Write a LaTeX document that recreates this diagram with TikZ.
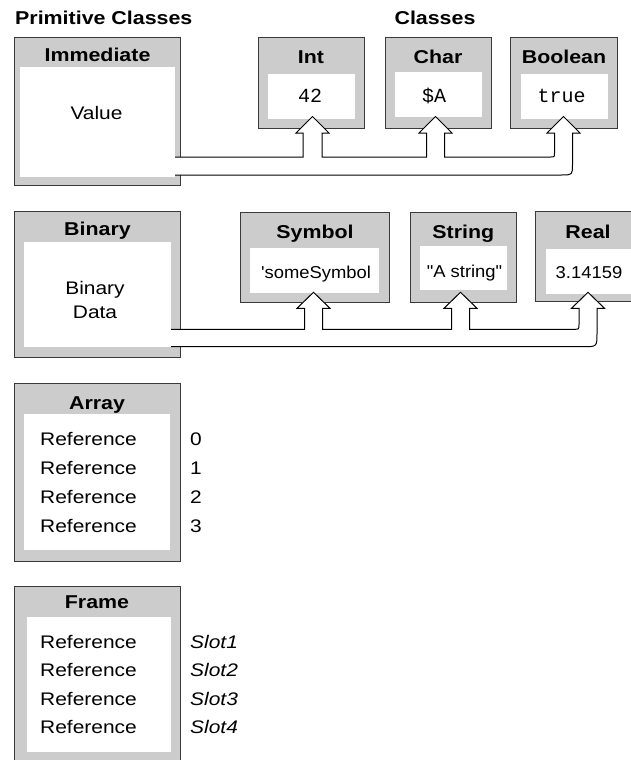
\documentclass[tikz,border=0pt]{standalone}
\usepackage{fontspec}
\setmainfont{Liberation Sans}[FakeStretch=1.15]
\newfontfamily\valfont{Liberation Sans}[FakeStretch=1.07]
\newfontfamily\monofont{Liberation Mono}
\usetikzlibrary{fit}
\definecolor{boxgray}{HTML}{CCCCCC}
\definecolor{edgegray}{HTML}{3A3A3A}
\begin{document}
\begin{tikzpicture}[x=1pt,y=-1pt,
  outerbox/.style={draw=edgegray, fill=boxgray, line width=1pt, inner sep=0pt, rectangle},
  innerbox/.style={fill=white, draw=none, inner sep=0pt, rectangle},
  hdr/.style={font=\fontsize{18.6}{20}\selectfont\bfseries, anchor=base, inner sep=0pt},
  txt/.style={font=\fontsize{18.2}{20}\selectfont, anchor=base, inner sep=0pt},
  reftxt/.style={font=\fontsize{18.2}{20}\selectfont, anchor=base west, inner sep=0pt},
  slottxt/.style={font=\fontsize{18.2}{20}\selectfont\itshape, anchor=base west, inner sep=0pt},
  monotxt/.style={font=\fontsize{20}{22}\selectfont\monofont, anchor=base, inner sep=0pt},
  valtxt/.style={font=\fontsize{17.2}{19}\selectfont\valfont, anchor=base, inner sep=0pt},
  pipe/.style={draw=black, fill=white, line width=1pt, line join=miter}
]
\path[use as bounding box] (0,0) rectangle (631,760);
\clip (0,0) rectangle (631,760);

% titles
\node[hdr, anchor=base west] (tprim) at (15,25) {Primitive Classes};
\node[hdr] (tcls) at (435,25) {Classes};

% ---- row 1 ----
\node[outerbox, fit={(14.3,37.7) (180.7,185)}] (imm) {};
\node[innerbox, fit={(20,66.7) (175,176.7)}] (immin) {};
\node[hdr] (immh) at (97.5,61.5) {Immediate};
\node[txt] (immv) at (96.5,119.3) {Value};

\node[outerbox, fit={(258,37.7) (364,128)}] (int) {};
\node[innerbox, fit={(268,74) (355,119)}] (intin) {};
\node[hdr] (inth) at (311,63.5) {Int};
\node[monotxt] (intv) at (310,102.5) {42};

\node[outerbox, fit={(385,37.7) (491,128)}] (chr) {};
\node[innerbox, fit={(395,72.3) (482,117)}] (chrin) {};
\node[hdr] (chrh) at (438,63.5) {Char};
\node[monotxt] (chrv) at (434,102) {\$A};

\node[outerbox, fit={(510.7,37.7) (617.3,128)}] (bool) {};
\node[innerbox, fit={(520.7,74) (608,119)}] (boolin) {};
\node[hdr] (boolh) at (564,63.5) {Boolean};
\node[monotxt] (boolv) at (561.5,102.5) {true};

\filldraw[pipe] (175,157) -- (303,157) -- (303,133) -- (296,133) -- (312.5,116.5)
  -- (329,133) -- (322,133) -- (322,157) -- (426.5,157) -- (426.5,133) -- (419,133)
  -- (435.5,116.5) -- (452,133) -- (444.5,133) -- (444.5,157) -- (550.5,157)
  .. controls (554.5,157) .. (554.5,153) -- (554.5,133) -- (547,133) -- (563.5,116.5)
  -- (580,133) -- (572.5,133) -- (572.5,164) .. controls (572.5,175) .. (561.5,175)
  -- (175,175);

% ---- row 2 ----
\node[outerbox, fit={(14.3,211.7) (180.7,357.7)}] (bin) {};
\node[innerbox, fit={(24,241.7) (171,346.7)}] (binin) {};
\node[hdr] (binh) at (97.5,235.7) {Binary};
\node[txt] (binv1) at (95,294) {Binary};
\node[txt] (binv2) at (95,318.3) {Data};

\node[outerbox, fit={(240.7,212.3) (389.3,302.3)}] (sym) {};
\node[innerbox, fit={(250,248.3) (379,292.7)}] (symin) {};
\node[hdr] (symh) at (315,238.5) {Symbol};
\node[valtxt] (symv) at (316,278.3) {'someSymbol};

\node[outerbox, fit={(410,212.3) (516.7,302.3)}] (str) {};
\node[innerbox, fit={(420,246) (506.7,290)}] (strin) {};
\node[hdr] (strh) at (463.3,238.5) {String};
\node[valtxt] (strv) at (464.5,277.3) {"A string"};

\node[outerbox, fit={(535.7,211.7) (645,301.7)}] (real) {};
\node[innerbox, fit={(545.7,248.7) (640,294)}] (realin) {};
\node[hdr] (realh) at (588,238.5) {Real};
\node[valtxt] (realv) at (589,278.3) {3.14159};

\filldraw[pipe] (171,329.3) -- (304.5,329.3) -- (304.5,308.3) -- (297,308.3) -- (313.5,292.3)
  -- (330,308.3) -- (322.5,308.3) -- (322.5,329.3) -- (451.5,329.3) -- (451.5,308.3)
  -- (444,308.3) -- (460.5,292.3) -- (477,308.3) -- (469.5,308.3) -- (469.5,329.3)
  -- (574,329.3) .. controls (579,329.3) .. (579,324.3) -- (579,308.3) -- (571.5,308.3)
  -- (588,292.3) -- (604.5,308.3) -- (597,308.3) -- (597,333)
  .. controls (597,346.7) .. (583.3,346.7) -- (171,346.7);

% ---- Array ----
\node[outerbox, fit={(14.3,383.3) (180,561)}] (arr) {};
\node[innerbox, fit={(24,414) (170,550)}] (arrin) {};
\node[hdr] (arrh) at (97,409.3) {Array};
\foreach \i/\yy in {0/445,1/474.3,2/503.3,3/532.3}{
  \node[reftxt] (aref\i) at (40,\yy) {Reference};
  \node[reftxt] (aidx\i) at (190,\yy) {\i};
}

% ---- Frame ----
\node[outerbox, fit={(14.3,586) (180,770)}] (frm) {};
\node[innerbox, fit={(27.3,616.7) (170.7,751.7)}] (frmin) {};
\node[hdr] (frmh) at (97,608.3) {Frame};
\foreach \i/\yy in {1/648.3,2/676.7,3/705,4/733.3}{
  \node[reftxt] (fref\i) at (40,\yy) {Reference};
  \node[slottxt] (fslot\i) at (190,\yy) {Slot\i};
}
\end{tikzpicture}
\end{document}
